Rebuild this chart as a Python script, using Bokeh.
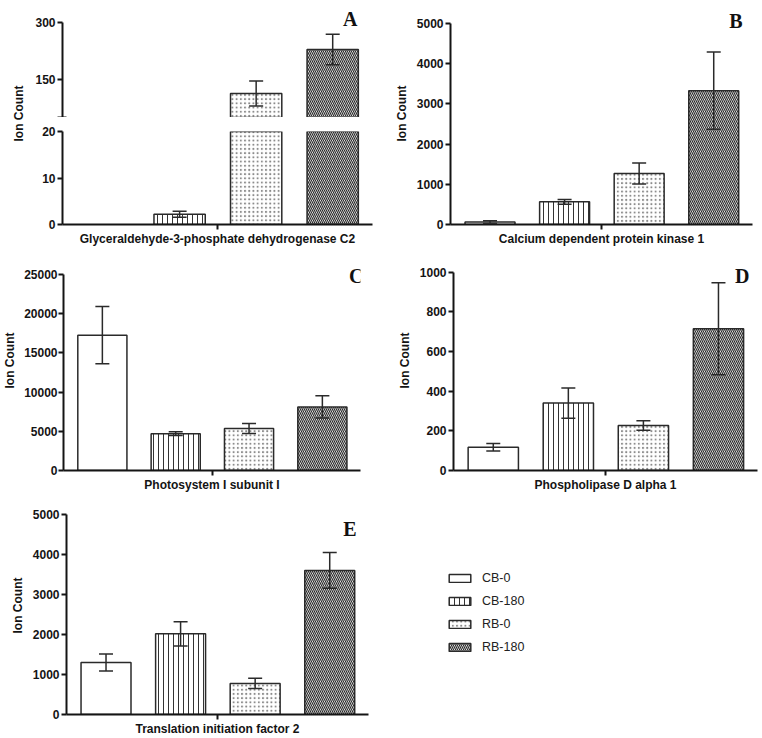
import numpy as np
from bokeh.plotting import figure
from bokeh.models import (Range1d, FixedTicker, Whisker, TeeHead, ColumnDataSource,
                          Label, Legend, LegendItem)
from bokeh.layouts import row, column
from bokeh.embed import file_html
from bokeh.resources import INLINE

# ---------------- data ----------------
groups = ["CB-0", "CB-180", "RB-0", "RB-180"]

gapdh_mean = [0, 2.2, 113, 229]
gapdh_err = [0, 0.65, 33, 40]
cdpk_mean = [60, 565, 1270, 3330]
cdpk_err = [35, 60, 260, 960]
psi_mean = [17250, 4700, 5350, 8100]
psi_err = [3650, 230, 630, 1420]
pld_mean = [117, 340, 227, 715]
pld_err = [19, 76, 24, 232]
tif_mean = [1300, 2015, 775, 3600]
tif_err = [212, 303, 128, 448]

gapdh_low_ticks = [0, 10, 20]
gapdh_high_ticks = [150, 300]
gapdh_break = 50
cdpk_ticks = [0, 1000, 2000, 3000, 4000, 5000]
psi_ticks = [0, 5000, 10000, 15000, 20000, 25000]
pld_ticks = [0, 200, 400, 600, 800, 1000]
tif_ticks = [0, 1000, 2000, 3000, 4000, 5000]

# ---------------- style ----------------
SANS = "Liberation Sans"
SERIF = "Liberation Serif"
INK = "#141414"
BAR_LINE = "#2a2a2a"
XMAX = 4.05
SLOT = np.arange(len(groups)) + 0.53
XC = float(SLOT.mean())
BAR_W = 0.67

STYLES = [
    dict(hatch_pattern=" "),
    dict(hatch_pattern="|", hatch_scale=5, hatch_weight=1.0, hatch_color="#333333"),
    dict(hatch_pattern=".", hatch_scale=4.2, hatch_weight=1.0, hatch_color="#8a8a8a"),
    dict(hatch_pattern="\\", hatch_scale=4.0, hatch_weight=1.2, hatch_color="#2a2a2a"),
]


def make_fig(cx, cy, cw, ch, left, right, top_tick, bottom, frame_top, ylo, yhi,
             xaxis=True, tick_standoff=2):
    bl, br = left - cx, cx + cw - right
    bt, bb = frame_top - cy, cy + ch - bottom
    yend = ylo + (yhi - ylo) * (bottom - frame_top) / (bottom - top_tick)
    p = figure(width=cw, height=ch, x_range=Range1d(0, XMAX), y_range=Range1d(ylo, yend),
               output_backend="svg", toolbar_location=None,
               min_border_left=bl, min_border_right=br,
               min_border_top=bt, min_border_bottom=bb,
               x_axis_location="below" if xaxis else None)
    p.outline_line_color = None
    p.xgrid.visible = False
    p.ygrid.visible = False
    p.background_fill_color = "white"
    p.border_fill_color = "white"
    ax = p.yaxis[0]
    ax.bounds = (ylo, yhi)
    ax.axis_line_width = 2
    ax.axis_line_color = INK
    ax.major_tick_line_width = 2
    ax.major_tick_line_color = INK
    ax.major_tick_out = 5
    ax.major_tick_in = 0
    ax.minor_tick_line_color = None
    ax.major_label_text_font = SANS
    ax.major_label_text_font_style = "bold"
    ax.major_label_text_font_size = "12px"
    ax.major_label_text_color = INK
    ax.major_label_standoff = tick_standoff
    ax.axis_label_text_font = SANS
    ax.axis_label_text_font_style = "bold"
    ax.axis_label_text_font_size = "12px"
    ax.axis_label_text_color = INK
    if xaxis:
        ax = p.xaxis[0]
        # single unlabeled centre tick (drawn as a minor tick, so no tick label text)
        ax.ticker = FixedTicker(ticks=[], minor_ticks=[XC])
        ax.axis_line_width = 2
        ax.axis_line_color = INK
        ax.major_tick_line_color = None
        ax.major_tick_out = 5
        ax.major_tick_in = 0
        ax.minor_tick_line_color = INK
        ax.minor_tick_line_width = 2
        ax.minor_tick_out = 5
        ax.minor_tick_in = 0
        ax.major_label_standoff = 0
        ax.axis_label_standoff = 2
        ax.axis_label_text_font = SANS
        ax.axis_label_text_font_style = "bold"
        ax.axis_label_text_font_size = "12px"
        ax.axis_label_text_color = INK
    return p


def add_bars(p, means, keep=None):
    for i in range(len(groups)):
        if keep is not None and not keep(i):
            continue
        p.vbar(x=[SLOT[i]], top=[means[i]], bottom=0, width=BAR_W,
               fill_color="white", line_color=BAR_LINE, line_width=1.5, **STYLES[i])


def add_err(p, means, errs, keep=None):
    idx = [i for i in range(len(means)) if errs[i] > 0 and (keep is None or keep(i))]
    src = ColumnDataSource(dict(
        x=[SLOT[i] for i in idx],
        upper=[means[i] + errs[i] for i in idx],
        lower=[means[i] - errs[i] for i in idx]))
    w = Whisker(base="x", upper="upper", lower="lower", source=src, dimension="height",
                line_color=BAR_LINE, line_width=1.5, level="overlay",
                upper_head=TeeHead(size=14, line_color=BAR_LINE, line_width=1.5),
                lower_head=TeeHead(size=14, line_color=BAR_LINE, line_width=1.5))
    p.add_layout(w)


def add_letter(p, text, sx, sy):
    p.add_layout(Label(x=sx, y=sy, x_units="screen", y_units="screen",
                       text=text, text_font=SERIF, text_font_style="bold",
                       text_font_size="20px", text_color="#111111",
                       text_align="right", text_baseline="alphabetic"))


def panel(means, errs, ticks, xlabel, letter, geom, lab_standoff, letter_xy, tick_standoff=2):
    cx, cy, cw, ch, left, right, top_tick, bottom = geom
    p = make_fig(cx, cy, cw, ch, left, right, top_tick, bottom, cy + 2, ticks[0], ticks[-1],
                 tick_standoff=tick_standoff)
    p.yaxis.ticker = FixedTicker(ticks=ticks)
    p.yaxis.axis_label = "Ion Count"
    p.yaxis.axis_label_standoff = lab_standoff
    p.xaxis.axis_label = xlabel
    add_bars(p, means)
    add_err(p, means, errs)
    lx, ly = letter_xy
    add_letter(p, letter, lx - left, bottom - ly)
    return p


# ---------------- panel A (broken axis) ----------------
labA = figure(width=24, height=248, x_range=Range1d(0, 24), y_range=Range1d(0, 248),
              min_border=0, output_backend="svg", toolbar_location=None,
              x_axis_location=None, y_axis_location=None)
labA.outline_line_color = None
labA.xgrid.visible = False
labA.ygrid.visible = False
labA.add_layout(Label(x=18, y=124, text="Ion Count", angle=np.pi / 2,
                      text_align="center", text_baseline="middle",
                      text_font=SANS, text_font_style="bold", text_font_size="12px",
                      text_color=INK))

upA = make_fig(24, 0, 356, 117, 62, 372, 22, 117, 2,
               gapdh_break, gapdh_high_ticks[-1], xaxis=False)
upA.yaxis.ticker = FixedTicker(ticks=gapdh_high_ticks, minor_ticks=[gapdh_break])
upA.yaxis.minor_tick_line_color = INK
upA.yaxis.minor_tick_line_width = 2
upA.yaxis.minor_tick_in = 4
upA.yaxis.minor_tick_out = 5
add_bars(upA, gapdh_mean, keep=lambda i: gapdh_mean[i] > gapdh_break)
add_err(upA, gapdh_mean, gapdh_err,
        keep=lambda i: gapdh_mean[i] - gapdh_err[i] >= gapdh_break)
add_letter(upA, "A", 357 - 62, 117 - 18.5)

lowA = make_fig(24, 117, 356, 131, 62, 372, 131, 226, 131,
                gapdh_low_ticks[0], gapdh_low_ticks[-1])
lowA.yaxis.ticker = FixedTicker(ticks=gapdh_low_ticks)
lowA.xaxis.axis_label = "Glyceraldehyde-3-phosphate dehydrogenase C2"
add_bars(lowA, gapdh_mean, keep=lambda i: gapdh_mean[i] > 0)
add_err(lowA, gapdh_mean, gapdh_err,
        keep=lambda i: gapdh_mean[i] + gapdh_err[i] <= gapdh_low_ticks[-1])

# ---------------- other panels ----------------
pB = panel(cdpk_mean, cdpk_err, cdpk_ticks, "Calcium dependent protein kinase 1", "B",
           (380, 0, 382, 248, 450, 752, 23, 224), 5, (742, 20.7))
pC = panel(psi_mean, psi_err, psi_ticks, "Photosystem I subunit I", "C",
           (0, 248, 380, 246, 58, 360, 274, 471), 4, (358, 276.5), tick_standoff=1)
pD = panel(pld_mean, pld_err, pld_ticks, "Phospholipase D alpha 1", "D",
           (380, 248, 382, 246, 453, 757, 272, 472), 5, (749, 277))
pE = panel(tif_mean, tif_err, tif_ticks, "Translation initiation factor 2", "E",
           (0, 494, 380, 244, 66, 368, 514, 715), 5, (356, 529))

# ---------------- legend ----------------
pL = figure(width=382, height=244, x_range=Range1d(0, 1), y_range=Range1d(0, 1),
            min_border=0, output_backend="svg", toolbar_location=None,
            x_axis_location=None, y_axis_location=None)
pL.outline_line_color = None
pL.xgrid.visible = False
pL.ygrid.visible = False
items = []
for i, g in enumerate(groups):
    r = pL.vbar(x=[0.5], top=[1], width=0.1, fill_color="white", line_color=BAR_LINE,
                line_width=1.5, visible=False, **STYLES[i])
    items.append(LegendItem(label=g, renderers=[r]))
leg = Legend(items=items, location=(66, 60), orientation="vertical",
             glyph_width=27, glyph_height=10, label_height=10, spacing=9,
             padding=0, margin=0, border_line_color=None, background_fill_alpha=0,
             inactive_fill_alpha=0, click_policy="none",
             label_standoff=9, label_text_font=SANS, label_text_font_size="12.5px",
             label_text_color="#222222", label_text_baseline="middle")
pL.add_layout(leg)

layout = column(
    row(labA, column(upA, lowA), pB),
    row(pC, pD),
    row(pE, pL),
)

with open("out.html", "w") as f:
    f.write(file_html(layout, INLINE))
